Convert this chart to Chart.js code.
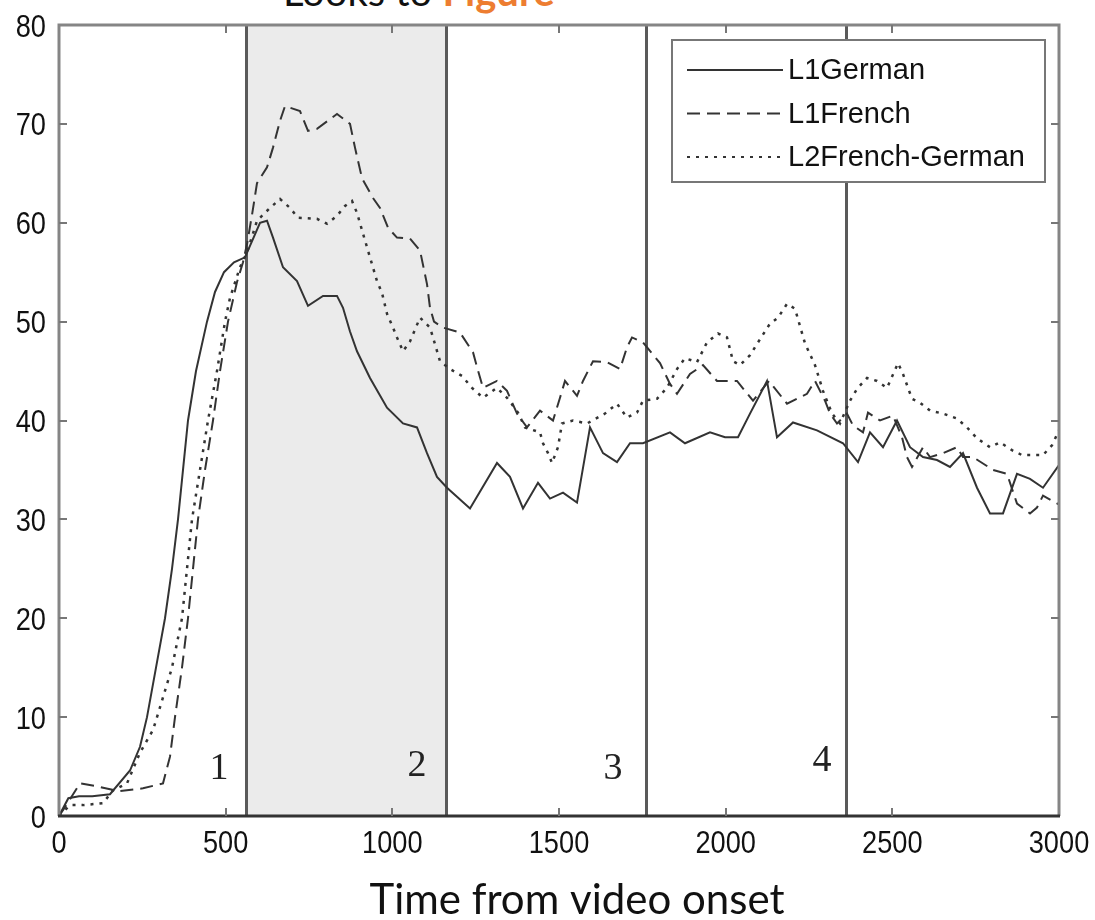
<!DOCTYPE html>
<html lang="en">
<head>
    <meta charset="UTF-8">
    <title>Looks to Figure</title>
    <style>
        html, body {
            margin: 0;
            padding: 0;
            background: #fff;
            overflow: hidden;
        }
        #wrap {
            position: relative;
            width: 1095px;
            height: 920px;
        }
        #topTitle {
            position: absolute;
            left: 283px;
            top: -29px;
            font-family: Lato, 'Open Sans', sans-serif;
            font-size: 40px;
            line-height: 40px;
            white-space: nowrap;
            color: #111;
        }
        #topTitle span {
            color: #ed7d31;
            font-weight: bold;
        }
        canvas {
            position: absolute;
            left: 0;
            top: 0;
        }
    </style>
    <script src="https://cdn.jsdelivr.net/npm/chart.js"></script>
</head>
<body>
    <div id="wrap">
        <div id="topTitle">Looks to <span>Figure</span></div>
        <canvas id="looksChart" width="1095" height="920"></canvas>
    </div>

    <script>
        // series (time in ms, value in %)
        const germanT = [0, 28, 60, 100, 153, 213, 243, 264, 291, 318, 339, 357, 372, 387, 411, 444, 468, 495, 525, 558,
            603, 624, 642, 672, 714, 747, 792, 834, 852, 873, 894, 933, 984, 1032, 1074, 1104, 1134, 1164, 1233, 1314,
            1353, 1392, 1437, 1473, 1512, 1554, 1593, 1632, 1674, 1713, 1752, 1833, 1878, 1953, 1998, 2037, 2073, 2124, 2154, 2202,
            2274, 2352, 2397, 2433, 2472, 2514, 2553, 2592, 2634, 2673, 2712, 2754, 2793, 2832, 2874, 2913, 2952, 3000];
        const germanV = [0, 1.8, 2, 2, 2.2, 4.6, 7, 10, 15, 20, 25, 30, 35, 40, 45, 50, 53, 55, 56, 56.5,
            60, 60.2, 58.5, 55.5, 54.1, 51.6, 52.6, 52.6, 51.4, 49, 47, 44.3, 41.3, 39.7, 39.3, 36.7, 34.3, 33.2, 31.1, 35.7,
            34.3, 31.1, 33.7, 32.1, 32.7, 31.7, 39.3, 36.7, 35.8, 37.7, 37.7, 38.8, 37.7, 38.8, 38.3, 38.3, 40.7, 44, 38.3, 39.8,
            39, 37.7, 35.8, 38.8, 37.3, 40, 37.3, 36.3, 36, 35.3, 36.7, 33.2, 30.6, 30.6, 34.6, 34.1, 33.2, 35.5];

        const frenchT = [0, 20, 63, 114, 180, 252, 312, 333, 348, 369, 387, 402, 417, 438, 462, 483, 507, 534, 552, 565,
            580, 594, 624, 642, 663, 678, 723, 747, 774, 834, 873, 888, 909, 942, 963, 987, 1014, 1053, 1083, 1104,
            1113, 1125, 1152, 1203, 1242, 1254, 1272, 1314, 1344, 1374, 1404, 1443, 1482, 1503, 1518, 1554, 1572, 1602, 1644, 1683,
            1704, 1719, 1752, 1803, 1833, 1854, 1893, 1932, 1974, 2034, 2082, 2130, 2184, 2244, 2268, 2298, 2313, 2334, 2364, 2382,
            2412, 2427, 2463, 2502, 2529, 2544, 2559, 2592, 2613, 2652, 2694, 2712, 2742, 2802, 2844, 2874, 2913, 2934, 2952, 3000];
        const frenchV = [0, 1, 3.3, 3, 2.5, 2.8, 3.3, 6, 10, 15, 20, 25, 30, 35, 40, 45, 50, 54, 56, 58,
            61, 64, 65.6, 67.6, 70.3, 71.8, 71.3, 69.3, 69.5, 71, 70, 67.6, 64.5, 62.5, 61.5, 59.5, 58.5, 58.4, 57.2, 53.8,
            51.4, 50, 49.4, 48.9, 46.9, 45.4, 43.3, 44, 43, 40.7, 39.3, 41, 40, 42.3, 44, 42.5, 44, 46, 45.9, 45.2,
            47.4, 48.4, 47.9, 45.8, 43.7, 42.7, 44.7, 45.6, 44, 44, 42, 44, 41.7, 42.7, 44, 42, 40.7, 39.7, 40.7, 39.5,
            38.8, 40.8, 40, 40.5, 38.3, 36.3, 35.3, 37.3, 36.3, 36.7, 37.3, 36.3, 36.3, 35, 34.6, 31.6, 30.6, 31.2, 32.4, 31.5];

        const mixedT = [0, 33, 72, 132, 162, 204, 243, 282, 294, 339, 369, 384, 399, 423, 447, 474, 498, 513, 543, 564,
            594, 633, 663, 693, 717, 774, 804, 834, 858, 879, 894, 912, 933, 954, 969, 984, 1002, 1014, 1032, 1053,
            1083, 1113, 1122, 1143, 1173, 1209, 1239, 1272, 1314, 1344, 1377, 1398, 1443, 1452, 1467, 1479, 1497, 1509, 1542, 1584,
            1638, 1674, 1704, 1734, 1752, 1794, 1824, 1854, 1878, 1914, 1944, 1977, 2004, 2022, 2043, 2073, 2097, 2133, 2157, 2184,
            2208, 2238, 2268, 2292, 2319, 2343, 2373, 2394, 2424, 2454, 2484, 2517, 2532, 2559, 2583, 2613, 2652, 2694, 2724, 2754,
            2793, 2823, 2859, 2889, 2952, 2979, 3000];
        const mixedV = [0, 1.1, 1.1, 1.3, 2.6, 3.3, 6.4, 8.7, 10, 15, 20, 25, 30, 35, 40, 45, 50, 52.4, 55.5, 57,
            60.2, 61.5, 62.4, 61.5, 60.5, 60.4, 59.9, 60.7, 61.7, 62.2, 61, 58.9, 56.5, 54.1, 52.9, 50.8, 49.4, 48.4, 47, 48,
            50.4, 49.4, 48.4, 46, 45.2, 44.5, 43.3, 42.3, 43.3, 42.3, 40.8, 39.3, 38.8, 37.7, 36.7, 35.7, 37.3, 39.7, 40, 39.7,
            40.7, 41.7, 40.3, 40.8, 42, 42.2, 43.3, 45.2, 46.3, 45.9, 47.9, 48.8, 48.4, 46, 45.6, 46.6, 47.9, 49.8, 50.4, 51.8,
            51.3, 47.8, 45.6, 43, 40.7, 39.7, 42, 43.2, 44.3, 44, 43.3, 45.8, 44.7, 42.2, 41.8, 41, 40.7, 40.2, 39.3, 38.2,
            37.3, 37.8, 37, 36.5, 36.5, 37.5, 39];

        const seriesNames = ['L1German', 'L1French', 'L2French-German'];
        const xTitle = 'Time from video onset';

        // phase boundaries and labels
        const regionEdges = [560, 1160, 1760, 2360];
        const shadedRegion = [560, 1160];
        const regionNames = ['1', '2', '3', '4'];
        const regionNameX = [480, 1074, 1662, 2289];
        const regionNameY = [4.8, 5.1, 4.8, 5.6];

        const toPoints = (ts, vs) => ts.map((t, i) => ({ x: t, y: vs[i] }));

        // tick labels in the figure are tall and narrow, so squeeze them a bit
        function squeezedText(ctx, txt, px, py, align, squeeze) {
            ctx.save();
            ctx.translate(px, py);
            ctx.scale(squeeze, 1);
            ctx.textAlign = align;
            ctx.fillText(txt, 0, 0);
            ctx.restore();
        }

        const figureDecor = {
            id: 'figureDecor',
            beforeDatasetsDraw(chart) {
                const { ctx, chartArea: a, scales: { x } } = chart;
                ctx.save();
                const s0 = x.getPixelForValue(shadedRegion[0]);
                const s1 = x.getPixelForValue(shadedRegion[1]);
                ctx.fillStyle = '#ebebeb';
                ctx.fillRect(s0, a.top, s1 - s0, a.bottom - a.top);
                ctx.strokeStyle = '#5a5a5a';
                ctx.lineWidth = 3;
                regionEdges.forEach(v => {
                    const px = Math.round(x.getPixelForValue(v)) + 0.5;
                    ctx.beginPath();
                    ctx.moveTo(px, a.top);
                    ctx.lineTo(px, a.bottom);
                    ctx.stroke();
                });
                ctx.restore();
            },
            afterDraw(chart) {
                const { ctx, chartArea: a, scales: { x, y } } = chart;
                ctx.save();

                // box
                ctx.strokeStyle = '#858585';
                ctx.lineWidth = 3;
                ctx.beginPath();
                ctx.moveTo(a.left, a.bottom);
                ctx.lineTo(a.left, a.top);
                ctx.lineTo(a.right, a.top);
                ctx.lineTo(a.right, a.bottom);
                ctx.stroke();
                ctx.strokeStyle = '#333';
                ctx.beginPath();
                ctx.moveTo(a.left - 1, a.bottom);
                ctx.lineTo(a.right + 1, a.bottom);
                ctx.stroke();

                // inward ticks on all sides
                const tl = 8;
                ctx.strokeStyle = '#777';
                ctx.lineWidth = 2;
                x.ticks.forEach(t => {
                    const px = Math.round(x.getPixelForValue(t.value));
                    if (px <= a.left + 2 || px >= a.right - 2) return;
                    ctx.beginPath();
                    ctx.moveTo(px, a.bottom); ctx.lineTo(px, a.bottom - tl);
                    ctx.moveTo(px, a.top); ctx.lineTo(px, a.top + tl);
                    ctx.stroke();
                });
                y.ticks.forEach(t => {
                    const py = Math.round(y.getPixelForValue(t.value));
                    if (py <= a.top + 2 || py >= a.bottom - 2) return;
                    ctx.beginPath();
                    ctx.moveTo(a.left, py); ctx.lineTo(a.left + tl, py);
                    ctx.moveTo(a.right, py); ctx.lineTo(a.right - tl, py);
                    ctx.stroke();
                });

                // tick labels
                ctx.fillStyle = '#111';
                ctx.font = "32px 'Liberation Sans', Arial, sans-serif";
                ctx.textBaseline = 'alphabetic';
                x.ticks.forEach(t => {
                    squeezedText(ctx, String(t.value), x.getPixelForValue(t.value), a.bottom + 37, 'center', 0.85);
                });
                y.ticks.forEach(t => {
                    squeezedText(ctx, String(t.value), a.left - 13, y.getPixelForValue(t.value) + 11.5, 'right', 0.85);
                });

                // axis title
                ctx.font = "42px Lato, 'Open Sans', sans-serif";
                ctx.textAlign = 'center';
                ctx.fillText(xTitle, (a.left + a.right) / 2 + 18, a.bottom + 98);

                // phase numbers
                ctx.fillStyle = '#222';
                ctx.font = "38px 'Liberation Serif', 'Times New Roman', serif";
                ctx.textAlign = 'center';
                ctx.textBaseline = 'middle';
                regionNames.forEach((n, i) => {
                    ctx.fillText(n, x.getPixelForValue(regionNameX[i]), y.getPixelForValue(regionNameY[i]));
                });

                // legend box, top right
                const lw = 373, lh = 142;
                const lx = a.right - lw - 14, ly = a.top + 15;
                ctx.fillStyle = '#fff';
                ctx.fillRect(lx, ly, lw, lh);
                ctx.strokeStyle = '#777';
                ctx.lineWidth = 2;
                ctx.strokeRect(lx, ly, lw, lh);
                ctx.font = "29px 'Liberation Sans', Arial, sans-serif";
                ctx.textAlign = 'left';
                chart.data.datasets.forEach((ds, i) => {
                    const cy = ly + 30 + i * 43.5;
                    ctx.strokeStyle = ds.borderColor;
                    ctx.lineWidth = 2;
                    ctx.setLineDash(ds.borderDash || []);
                    ctx.beginPath();
                    ctx.moveTo(lx + 15, cy);
                    ctx.lineTo(lx + 111, cy);
                    ctx.stroke();
                    ctx.setLineDash([]);
                    ctx.fillStyle = '#111';
                    ctx.fillText(ds.label, lx + 116, cy + 1);
                });
                ctx.restore();
            }
        };

        const chart = new Chart(document.getElementById('looksChart'), {
            type: 'line',
            data: {
                datasets: [
                    {
                        label: seriesNames[0],
                        data: toPoints(germanT, germanV),
                        borderColor: '#333',
                        borderWidth: 2,
                        borderDash: []
                    },
                    {
                        label: seriesNames[1],
                        data: toPoints(frenchT, frenchV),
                        borderColor: '#333',
                        borderWidth: 2,
                        borderDash: [13, 7]
                    },
                    {
                        label: seriesNames[2],
                        data: toPoints(mixedT, mixedV),
                        borderColor: '#333',
                        borderWidth: 2.5,
                        borderDash: [3, 6]
                    }
                ]
            },
            options: {
                responsive: false,
                animation: false,
                parsing: false,
                elements: {
                    point: { radius: 0 },
                    line: { tension: 0, borderCapStyle: 'butt' }
                },
                layout: { padding: { top: 25, right: 36, left: 0, bottom: 0 } },
                plugins: {
                    legend: { display: false },
                    tooltip: { enabled: false }
                },
                scales: {
                    x: {
                        type: 'linear',
                        min: 0,
                        max: 3000,
                        grid: { display: false },
                        border: { display: false },
                        ticks: { stepSize: 500, display: false },
                        afterFit(scale) { scale.height = 104; }
                    },
                    y: {
                        min: 0,
                        max: 80,
                        grid: { display: false },
                        border: { display: false },
                        ticks: { stepSize: 10, display: false },
                        afterFit(scale) { scale.width = 59; }
                    }
                }
            },
            plugins: [figureDecor]
        });
    </script>
</body>
</html>
